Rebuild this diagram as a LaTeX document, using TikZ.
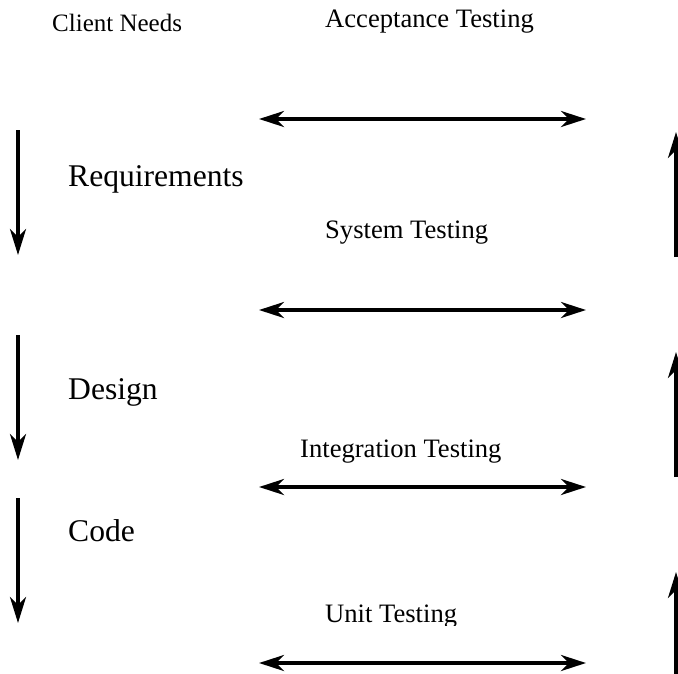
\documentclass[tikz,border=0pt]{standalone}
\usepackage{fontspec}
\setmainfont{Liberation Serif}
\usetikzlibrary{arrows.meta}
\tikzset{
  smalltxt/.style={anchor=base west, inner sep=0pt, font=\fontsize{26.6}{30}\selectfont},
  bigtxt/.style={anchor=base west, inner sep=0pt, font=\fontsize{31.6}{38}\selectfont},
  flow/.style={line width=4pt, -{Stealth[length=26pt,width=16pt,inset=8pt]}},
  both/.style={line width=4pt, {Stealth[length=25pt,width=16pt,inset=8pt]}-{Stealth[length=25pt,width=16pt,inset=8pt]}}
}
\begin{document}
\begin{tikzpicture}[x=1pt,y=-1pt]
\useasboundingbox (0,0) rectangle (678,673);
% texts
\node[smalltxt, font=\fontsize{25}{30}\selectfont] (cn) at (52,31) {Client Needs};
\node[smalltxt] (at) at (325,27) {Acceptance Testing};
\node[bigtxt] (rq) at (68,186) {Requirements};
\node[smalltxt] (st) at (325,238) {System Testing};
\node[bigtxt] (ds) at (68,399) {Design};
\node[smalltxt] (it) at (300,457) {Integration Testing};
\node[bigtxt] (cd) at (68,541) {Code};
\begin{scope}
\clip (290,590) rectangle (480,625);
\node[smalltxt] (ut) at (325,622) {Unit Testing};
\end{scope}
% coordinates
\coordinate (d1a) at (18,130); \coordinate (d1b) at (18,255);
\coordinate (d2a) at (18,335); \coordinate (d2b) at (18,460);
\coordinate (d3a) at (18,498); \coordinate (d3b) at (18,623);
\coordinate (u1a) at (676,257); \coordinate (u1b) at (676,132);
\coordinate (u2a) at (676,477); \coordinate (u2b) at (676,352);
\coordinate (u3a) at (676,700); \coordinate (u3b) at (676,572);
\coordinate (h1a) at (259,119); \coordinate (h1b) at (586,119);
\coordinate (h2a) at (259,310); \coordinate (h2b) at (586,310);
\coordinate (h3a) at (259,487); \coordinate (h3b) at (586,487);
\coordinate (h4a) at (259,663); \coordinate (h4b) at (586,663);
% arrows
\draw[flow] (d1a) -- (d1b);
\draw[flow] (d2a) -- (d2b);
\draw[flow] (d3a) -- (d3b);
\begin{scope}
\clip (0,0) rectangle (678,673);
\draw[flow] (u1a) -- (u1b);
\draw[flow] (u2a) -- (u2b);
\draw[flow] (u3a) -- (u3b);
\end{scope}
\draw[both] (h1a) -- (h1b);
\draw[both] (h2a) -- (h2b);
\draw[both] (h3a) -- (h3b);
\draw[both] (h4a) -- (h4b);
\end{tikzpicture}
\end{document}
